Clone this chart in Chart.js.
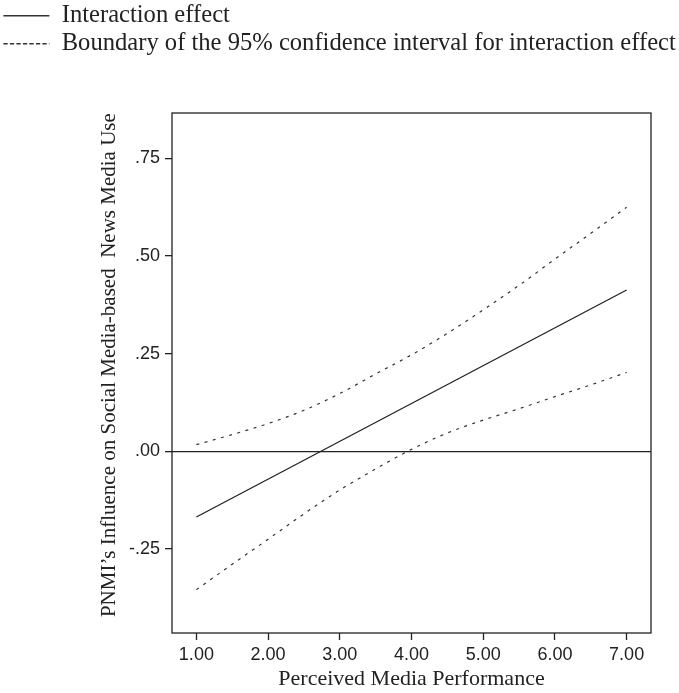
<!DOCTYPE html>
<html lang="en">
<head>
    <script src="https://cdn.jsdelivr.net/npm/chart.js"></script>
    <style>
        body {
            margin: 0;
            background: #fff;
        }

        #container {
            width: 679px;
            height: 693px;
            position: relative;
        }
    </style>
</head>
<body>
    <div id="container">
        <canvas id="myChart"></canvas>
    </div>

    <script>
        // values
        const effectX = [1, 7];
        const effectY = [-0.168, 0.413];

        const ciX = [1, 1.5, 2, 2.5, 3, 3.5, 4, 4.5, 5, 5.5, 6, 6.5, 7];
        const upperCI = [0.017, 0.043, 0.071, 0.105, 0.148, 0.198, 0.247, 0.302, 0.362, 0.425, 0.492, 0.558, 0.625];
        const lowerCI = [-0.354, -0.289, -0.225, -0.16, -0.099, -0.045, 0.005, 0.047, 0.08, 0.109, 0.14, 0.17, 0.202];

        const xTicks = [1, 2, 3, 4, 5, 6, 7];
        const xTickLabels = ['1.00', '2.00', '3.00', '4.00', '5.00', '6.00', '7.00'];
        const yTicks = [-0.25, 0, 0.25, 0.5, 0.75];
        const yTickLabels = ['-.25', '.00', '.25', '.50', '.75'];

        const legendLabels = ['Interaction effect', 'Boundary of the 95% confidence interval for interaction effect'];
        const xTitle = 'Perceived Media Performance';
        // leading spaces nudge the rotated title up a little, like the original
        const yTitle = '   PNMI\u2019s Influence on Social Media-based  News Media Use';

        const ink = '#222';
        const serif = 'Liberation Serif';
        const sans = 'Liberation Sans';

        function pairs(xs, ys) {
            return xs.map((x, i) => ({ x: x, y: ys[i] }));
        }

        // box around the plot area
        const frame = {
            id: 'frame',
            beforeDatasetsDraw(chart) {
                const a = chart.chartArea;
                const ctx = chart.ctx;
                ctx.save();
                ctx.strokeStyle = ink;
                ctx.lineWidth = 1.3;
                ctx.strokeRect(a.left, a.top, a.right - a.left, a.bottom - a.top);
                ctx.restore();
            }
        };

        // leave room under the legend
        const legendGap = {
            id: 'legendGap',
            beforeInit(chart) {
                const fit = chart.legend.fit;
                chart.legend.fit = function () {
                    fit.bind(chart.legend)();
                    this.height = 113;
                };
            }
        };

        const ctx = document.getElementById('myChart').getContext('2d');

        const chart = new Chart(ctx, {
            type: 'line',
            data: {
                datasets: [{
                    label: legendLabels[0],
                    data: pairs(effectX, effectY),
                    borderColor: ink,
                    borderWidth: 1.3,
                    pointRadius: 0,
                    fill: false
                }, {
                    label: legendLabels[1],
                    data: pairs(ciX, upperCI),
                    borderColor: '#333',
                    borderWidth: 1.2,
                    borderDash: [3, 5.5],
                    cubicInterpolationMode: 'monotone',
                    pointRadius: 0,
                    fill: false
                }, {
                    label: 'lower',
                    data: pairs(ciX, lowerCI),
                    borderColor: '#333',
                    borderWidth: 1.2,
                    borderDash: [3, 5.5],
                    cubicInterpolationMode: 'monotone',
                    pointRadius: 0,
                    fill: false
                }]
            },
            options: {
                responsive: true,
                maintainAspectRatio: false,
                animation: false,
                layout: {
                    padding: 0
                },
                plugins: {
                    tooltip: { enabled: false },
                    legend: {
                        display: true,
                        position: 'top',
                        align: 'start',
                        labels: {
                            color: ink,
                            font: { family: serif, size: 24.6 },
                            usePointStyle: true,
                            pointStyleWidth: 46,
                            padding: 3.4,
                            generateLabels: () => [{
                                text: legendLabels[0],
                                pointStyle: 'line',
                                fillStyle: 'transparent',
                                strokeStyle: '#333',
                                lineWidth: 1.5,
                                lineDash: [],
                                fontColor: ink,
                                datasetIndex: 0
                            }, {
                                text: legendLabels[1],
                                pointStyle: 'line',
                                fillStyle: 'transparent',
                                strokeStyle: '#333',
                                lineWidth: 1.4,
                                lineDash: [4.3, 2.2],
                                fontColor: ink,
                                datasetIndex: 1
                            }]
                        }
                    }
                },
                scales: {
                    x: {
                        type: 'linear',
                        min: 0.66,
                        max: 7.34,
                        afterBuildTicks: (scale) => {
                            scale.ticks = xTicks.map(v => ({ value: v }));
                        },
                        afterFit: (scale) => {
                            scale.height = 60;
                        },
                        border: { display: false },
                        grid: {
                            drawOnChartArea: false,
                            drawTicks: true,
                            tickLength: 7,
                            tickColor: ink,
                            tickWidth: 1.3
                        },
                        ticks: {
                            color: ink,
                            padding: 4,
                            maxRotation: 0,
                            font: { family: sans, size: 18 },
                            callback: (value, index) => xTickLabels[index]
                        },
                        title: {
                            display: true,
                            text: xTitle,
                            color: ink,
                            font: { family: serif, size: 22 },
                            padding: { top: 0, bottom: 1 }
                        }
                    },
                    y: {
                        type: 'linear',
                        min: -0.465,
                        max: 0.866,
                        afterBuildTicks: (scale) => {
                            scale.ticks = yTicks.map(v => ({ value: v }));
                        },
                        afterFit: (scale) => {
                            scale.width = 172;
                        },
                        border: { display: false },
                        grid: {
                            drawOnChartArea: true,
                            drawTicks: true,
                            tickLength: 7,
                            tickColor: ink,
                            tickWidth: 1.3,
                            lineWidth: 1.3,
                            color: (c) => (c.tick && c.tick.value === 0 ? ink : 'transparent')
                        },
                        ticks: {
                            color: ink,
                            padding: 5,
                            font: { family: sans, size: 18 },
                            callback: (value, index) => yTickLabels[index]
                        },
                        title: {
                            display: true,
                            text: yTitle,
                            color: ink,
                            font: { family: serif, size: 21 },
                            padding: { top: 97, bottom: 0 }
                        }
                    },
                    // empty right-hand axis, only keeps the margin right of the plot
                    yRight: {
                        type: 'linear',
                        position: 'right',
                        display: true,
                        afterFit: (scale) => {
                            scale.width = 28;
                        },
                        border: { display: false },
                        grid: { display: false },
                        ticks: { display: false }
                    }
                }
            },
            plugins: [frame, legendGap]
        });
    </script>
</body>
</html>
